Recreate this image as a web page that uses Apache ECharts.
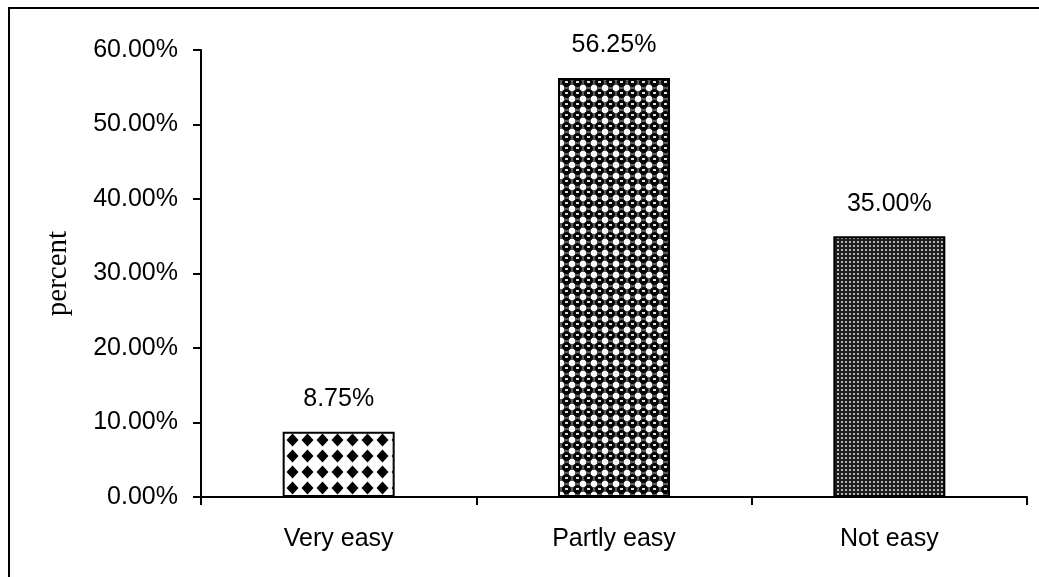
<!DOCTYPE html>
<html>
<head>
<meta charset="utf-8">
<script src="https://cdn.jsdelivr.net/npm/echarts@6/dist/echarts.min.js"></script>
<style>
  html, body { margin: 0; padding: 0; background: #fff; }
  #frame { position: absolute; left: 8px; top: 7px; width: 1031px; height: 570px;
           border-left: 2px solid #000; border-top: 2px solid #000; box-sizing: border-box; }
  #chart { position: absolute; left: 0; top: 0; width: 1039px; height: 577px; }
</style>
</head>
<body>
<div id="frame"></div>
<div id="chart"></div>
<script>
// Survey answers and their shares (percent)
const categories = ['Very easy', 'Partly easy', 'Not easy'];
const values = [8.75, 56.25, 35.00];
const axisMax = 60;
const axisStep = 10;

// Fill patterns drawn on small tiles
function tile(w, h, draw) {
  const c = document.createElement('canvas');
  c.width = w; c.height = h;
  const g = c.getContext('2d');
  draw(g, w, h);
  return c;
}

// white ground with black diamonds
const diamonds = tile(15, 16, (g, w, h) => {
  g.fillStyle = '#fff'; g.fillRect(0, 0, w, h);
  g.fillStyle = '#000';
  g.beginPath();
  g.moveTo(7.5, 1.5); g.lineTo(13.5, 8); g.lineTo(7.5, 14.5); g.lineTo(1.5, 8);
  g.closePath(); g.fill();
});

// dark rings with bright squares between
const rings = tile(11, 11, (g, w, h) => {
  g.fillStyle = '#5a5a5a'; g.fillRect(0, 0, w, h);
  g.fillStyle = '#fafafa';
  g.fillRect(0, 0, 3, 3); g.fillRect(8, 0, 3, 3); g.fillRect(0, 8, 3, 3); g.fillRect(8, 8, 3, 3);
  g.fillStyle = '#050505';
  g.beginPath(); g.arc(5.5, 5.5, 4.5, 0, Math.PI * 2); g.fill();
  g.fillStyle = '#e0e0e0';
  g.fillRect(4, 4, 3, 2);
});

// fine grid of light dots on a dark ground
const dots = tile(4, 4, (g, w, h) => {
  g.fillStyle = '#1e1e1e'; g.fillRect(0, 0, w, h);
  g.fillStyle = '#b4b4b4'; g.fillRect(1, 1, 2, 2);
});

const fills = [diamonds, rings, dots];
const sans = 'Liberation Sans, Arial, sans-serif';

const chart = echarts.init(document.getElementById('chart'), null, { renderer: 'canvas' });
chart.setOption({
  animation: false,
  grid: { left: 201, right: 12, top: 50, bottom: 80 },
  xAxis: {
    type: 'category',
    data: categories,
    axisLine: { lineStyle: { color: '#000', width: 2 } },
    axisTick: { show: true, alignWithLabel: false, length: 8, lineStyle: { color: '#000', width: 2 } },
    axisLabel: { color: '#000', fontFamily: sans, fontSize: 25, margin: 30 }
  },
  yAxis: {
    type: 'value',
    min: 0, max: axisMax, interval: axisStep,
    name: 'percent',
    nameLocation: 'middle',
    nameGap: 128,
    nameRotate: 90,
    nameTextStyle: { color: '#000', fontFamily: 'Liberation Serif, Times New Roman, serif', fontSize: 29 },
    axisLine: { show: true, lineStyle: { color: '#000', width: 2 } },
    axisTick: { show: true, length: 8, lineStyle: { color: '#000', width: 2 } },
    splitLine: { show: false },
    axisLabel: {
      color: '#000', fontFamily: sans, fontSize: 25, margin: 23,
      formatter: v => v.toFixed(2) + '%'
    }
  },
  series: [{
    type: 'bar',
    barWidth: 112,
    data: values.map((v, i) => ({
      value: v,
      itemStyle: { color: { image: fills[i], repeat: 'repeat' } }
    })),
    itemStyle: { borderColor: '#000', borderWidth: 2 },
    label: {
      show: true, position: 'top', distance: 20,
      color: '#000', fontFamily: sans, fontSize: 25,
      formatter: p => p.value.toFixed(2) + '%'
    }
  }]
});
</script>
</body>
</html>
